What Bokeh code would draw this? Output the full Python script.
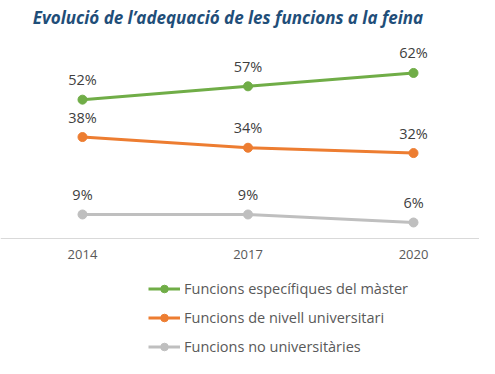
from bokeh.plotting import figure
from bokeh.models import ColumnDataSource, FixedTicker, Label, Legend, LegendItem, Range1d
from bokeh.embed import file_html
from bokeh.resources import INLINE

years = [2014, 2017, 2020]
year_labels = ["2014", "2017", "2020"]
series_names = ["Funcions específiques del màster",
                "Funcions de nivell universitari",
                "Funcions no universitàries"]
especifiques = [52, 57, 62]
nivell_univ = [38, 34, 32]
no_univ = [9, 9, 6]
colors = ["#70AD47", "#ED7D31", "#BFBFBF"]
title_text = "Evolució de l’adequació de les funcions a la feina"

W, H = 479, 358
p = figure(width=W, height=H, output_backend="svg", toolbar_location=None,
           x_range=Range1d(2012.514, 2021.196), y_range=Range1d(-44.94, 89.14),
           min_border=0, outline_line_color=None, background_fill_color="white")
p.xgrid.visible = False
p.ygrid.visible = False
p.yaxis.visible = False

xa = p.xaxis[0]
xa.ticker = FixedTicker(ticks=years)
xa.major_label_overrides = {y: l for y, l in zip(years, year_labels)}
xa.fixed_location = 0
xa.axis_line_color = "#D9D9D9"
xa.axis_line_width = 1
xa.major_tick_line_color = None
xa.minor_tick_line_color = None
xa.major_tick_out = 0
xa.major_tick_in = 0
xa.major_label_standoff = 11
xa.major_label_text_color = "#595959"
xa.major_label_text_font = "Open Sans"
xa.major_label_text_font_size = "13px"

items = []
for name, vals, col in zip(series_names, [especifiques, nivell_univ, no_univ], colors):
    src = ColumnDataSource(dict(x=years, y=vals, t=[f"{v}%" for v in vals]))
    ln = p.line("x", "y", source=src, line_color=col, line_width=3)
    ci = p.scatter("x", "y", source=src, size=9, fill_color=col, line_color=col)
    p.text("x", "y", text="t", source=src, text_align="center", text_baseline="middle",
           y_offset=-20, text_color="#404040", text_font_size="14.5px",
           text_font={"value": "Open Sans"})
    items.append(LegendItem(label=name, renderers=[ln, ci]))

legend = Legend(items=items, location=(148, 2), orientation="vertical",
                padding=0, margin=0, spacing=10, glyph_width=32, glyph_height=19,
                label_standoff=4, label_text_font="Open Sans", label_text_font_size="14.5px",
                label_text_color="#595959", label_height=19,
                border_line_alpha=0, background_fill_alpha=0)
p.add_layout(legend)

p.add_layout(Label(x=227.5, y=341, x_units="screen", y_units="screen", text=title_text,
                   text_align="center", text_baseline="middle", text_font="Open Sans",
                   text_font_style="bold italic", text_font_size="17px",
                   text_color="#1F4E79"))

open("out.html", "w").write(file_html(p, INLINE))
